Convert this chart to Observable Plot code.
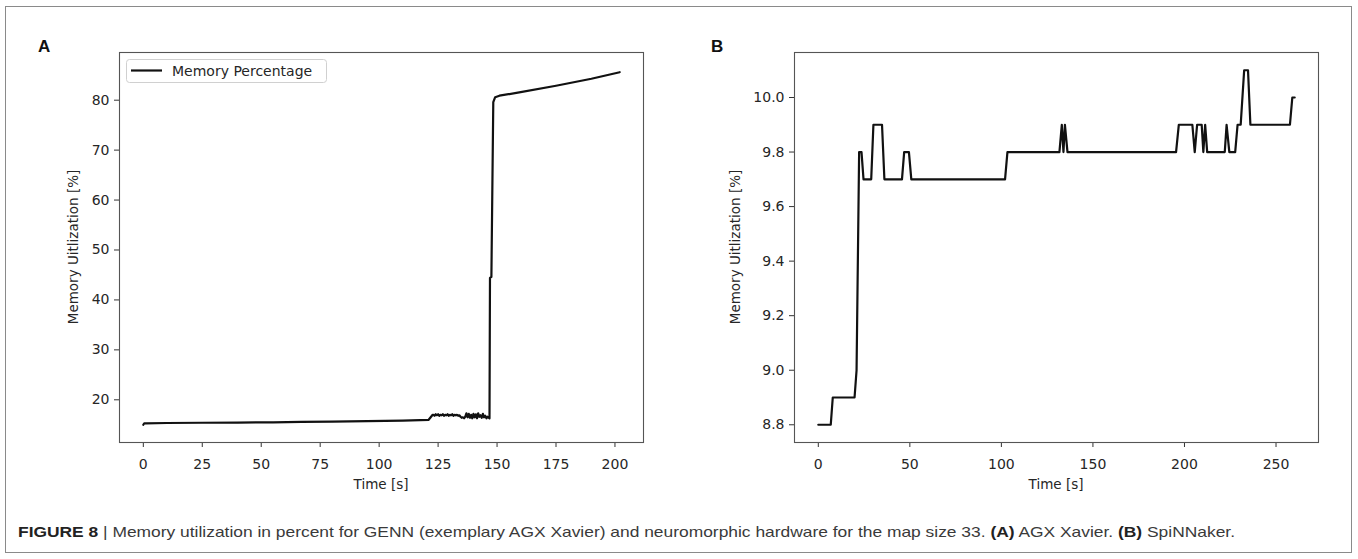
<!DOCTYPE html>
<html>
<head>
<meta charset="utf-8">
<script src="https://cdn.jsdelivr.net/npm/d3@7"></script>
<script src="https://cdn.jsdelivr.net/npm/@observablehq/plot@0.6"></script>
<style>
  html, body { margin: 0; padding: 0; background: #fff; }
  #wrap { position: relative; width: 1358px; height: 559px; overflow: hidden; background: #fff; }
  #wrap > .panel { position: absolute; top: 0; }
  #overlay { position: absolute; left: 0; top: 0; }
</style>
</head>
<body>
<div id="wrap"></div>
<script>
// ---- Panel A: AGX Xavier ----
const timeA = [0, 0.4, 1, 10, 25, 40, 55, 67, 80, 95, 110, 121, 122.7,
  123, 123.5, 124, 124.5, 125, 125.5, 126, 126.5, 127, 127.5, 128, 128.5, 129, 129.5,
  130, 130.5, 131, 131.5, 132, 132.5, 133, 133.5, 134, 134.5, 135, 135.5, 136, 136.5,
  137, 137.5, 138, 138.5, 139, 139.5, 140, 140.5, 141, 141.5, 142, 142.5, 143, 143.5,
  144, 144.5, 145, 145.5, 146, 146.5,
  146.8, 147.0, 147.6, 148.4, 149.2, 151, 160, 175, 190, 202];
const memA = [15.0, 15.3, 15.3, 15.35, 15.4, 15.45, 15.5, 15.6, 15.65, 15.75, 15.85, 16.0, 17.0,
  17.0, 16.8, 17.1, 16.9, 17.1, 16.8, 17.0, 16.9, 17.1, 16.8, 17.0, 16.9, 17.1, 16.8,
  17.0, 16.9, 17.1, 16.8, 17.0, 16.9, 17.0, 16.8, 16.9, 16.6, 16.4, 16.5, 16.3, 16.6,
  17.3, 16.5, 17.2, 16.4, 17.0, 16.3, 17.2, 16.5, 17.1, 16.3, 17.3, 16.6, 16.9, 16.4,
  17.2, 16.5, 16.8, 16.3, 16.6, 16.4,
  16.3, 44.4, 44.6, 79.6, 80.6, 80.9, 81.6, 82.9, 84.3, 85.6];
const xTicksA = [0, 25, 50, 75, 100, 125, 150, 175, 200];
const yTicksA = [20, 30, 40, 50, 60, 70, 80];

// ---- Panel B: SpiNNaker ----
const timeB = [0, 6.8, 7.9, 19.8, 20.9, 22.3, 23.6, 24.7, 28.9, 30.1, 34.8, 36.1, 45.7, 46.9, 49.5, 50.8,
  102.0, 103.3, 131.7, 133.0, 133.9, 134.7, 136.1, 195.4, 196.9, 204.3, 205.6, 206.9, 209.4, 210.3,
  211.3, 212.4, 222.0, 223.0, 224.5, 227.7, 229.0, 230.7, 232.6, 234.7, 236.0, 257.6, 258.9, 260.2];
const memB = [8.8, 8.8, 8.9, 8.9, 9.0, 9.8, 9.8, 9.7, 9.7, 9.9, 9.9, 9.7, 9.7, 9.8, 9.8, 9.7,
  9.7, 9.8, 9.8, 9.9, 9.8, 9.9, 9.8, 9.8, 9.9, 9.9, 9.8, 9.9, 9.9, 9.8,
  9.9, 9.8, 9.8, 9.9, 9.8, 9.8, 9.9, 9.9, 10.1, 10.1, 9.9, 9.9, 10.0, 10.0];
const xTicksB = [0, 50, 100, 150, 200, 250];
const yTicksB = [8.8, 9.0, 9.2, 9.4, 9.6, 9.8, 10.0];

const legendLabel = "Memory Percentage";
const yLabel = "Memory Uitlization [%]";
const xLabel = "Time [s]";

const dataA = timeA.map((t, i) => ({t, m: memA[i]}));
const dataB = timeB.map((t, i) => ({t, m: memB[i]}));

const wrap = document.getElementById("wrap");

function panel({data, xTicks, yTicks, xDomain, yDomain, width, left, ml, mr, yFormat}) {
  const chart = Plot.plot({
    width, height: 500,
    marginLeft: ml, marginRight: mr, marginTop: 52, marginBottom: 58,
    x: {domain: xDomain},
    y: {domain: yDomain},
    style: {fontFamily: "'DejaVu Sans', sans-serif", fontSize: "14px", color: "#262626", background: "transparent", overflow: "visible"},
    marks: [
      Plot.axisX(xTicks, {tickSize: 5, tickPadding: 12, label: null, stroke: "#333"}),
      Plot.axisY(yTicks, {tickSize: 5, tickPadding: 5, label: null, stroke: "#333", tickFormat: yFormat}),
      Plot.line(data, {x: "t", y: "m", stroke: "#111", strokeWidth: 2.2, strokeLinejoin: "round"}),
      Plot.frame({stroke: "#555", strokeWidth: 1.1})
    ]
  });
  chart.classList.add("panel");
  chart.style.left = left + "px";
  wrap.appendChild(chart);
}

panel({data: dataA, xTicks: xTicksA, yTicks: yTicksA, xDomain: [-10.1, 212.1], yDomain: [11.45, 89.55],
  width: 680, left: 0, ml: 119, mr: 37, yFormat: d3.format("d")});
panel({data: dataB, xTicks: xTicksB, yTicks: yTicksB, xDomain: [-13, 273.2], yDomain: [8.735, 10.165],
  width: 678, left: 680, ml: 114, mr: 40, yFormat: d3.format(".1f")});

// overlay texts
const ns = "http://www.w3.org/2000/svg";
const svg = d3.select(wrap).append("svg").attr("id", "overlay")
  .attr("width", 1358).attr("height", 559).attr("xmlns", ns);

svg.append("rect").attr("x", 5.5).attr("y", 6.5).attr("width", 1346).attr("height", 546)
  .attr("fill", "none").attr("stroke", "#8a8a8a").attr("stroke-width", 1);

// panel letters
[["A", 38], ["B", 711]].forEach(([l, x]) => {
  svg.append("text").attr("x", x).attr("y", 52).text(l)
    .attr("font-family", "'Liberation Sans', Arial, sans-serif").attr("font-weight", "bold")
    .attr("font-size", 17).attr("fill", "#111");
});

// axis labels
[[73, 381], [735, 1056]].forEach(([yx, cx]) => {
  svg.append("text").attr("transform", `translate(${yx},247) rotate(-90)`)
    .attr("text-anchor", "middle").attr("dominant-baseline", "central")
    .attr("font-family", "'DejaVu Sans', sans-serif").attr("font-size", 13.5).attr("fill", "#262626")
    .text(yLabel);
  svg.append("text").attr("x", cx).attr("y", 484).attr("text-anchor", "middle").attr("dominant-baseline", "central")
    .attr("font-family", "'DejaVu Sans', sans-serif").attr("font-size", 13.5).attr("fill", "#262626")
    .text(xLabel);
});

// legend
svg.append("rect").attr("x", 126.5).attr("y", 59.5).attr("width", 200).attr("height", 23).attr("rx", 3)
  .attr("fill", "#fff").attr("fill-opacity", 0.8).attr("stroke", "#d0d0d0");
svg.append("line").attr("x1", 131).attr("x2", 162).attr("y1", 70.5).attr("y2", 70.5)
  .attr("stroke", "#111").attr("stroke-width", 2.2);
svg.append("text").attr("x", 172).attr("y", 70.5).attr("dominant-baseline", "central")
  .attr("font-family", "'DejaVu Sans', sans-serif").attr("font-size", 14).attr("fill", "#262626")
  .text(legendLabel);

// caption
const cap = svg.append("text").attr("x", 18).attr("y", 537)
  .attr("font-family", "'Liberation Sans Narrow', 'Liberation Sans', Arial, sans-serif")
  .attr("font-size", 15).attr("fill", "#3a3a3a")
  .attr("textLength", 1217).attr("lengthAdjust", "spacingAndGlyphs");
cap.append("tspan").attr("font-weight", "bold").attr("fill", "#222").text("FIGURE 8");
cap.append("tspan").text(" | Memory utilization in percent for GENN (exemplary AGX Xavier) and neuromorphic hardware for the map size 33. ");
cap.append("tspan").attr("font-weight", "bold").attr("fill", "#222").text("(A)");
cap.append("tspan").text(" AGX Xavier. ");
cap.append("tspan").attr("font-weight", "bold").attr("fill", "#222").text("(B)");
cap.append("tspan").text(" SpiNNaker.");
</script>
</body>
</html>
